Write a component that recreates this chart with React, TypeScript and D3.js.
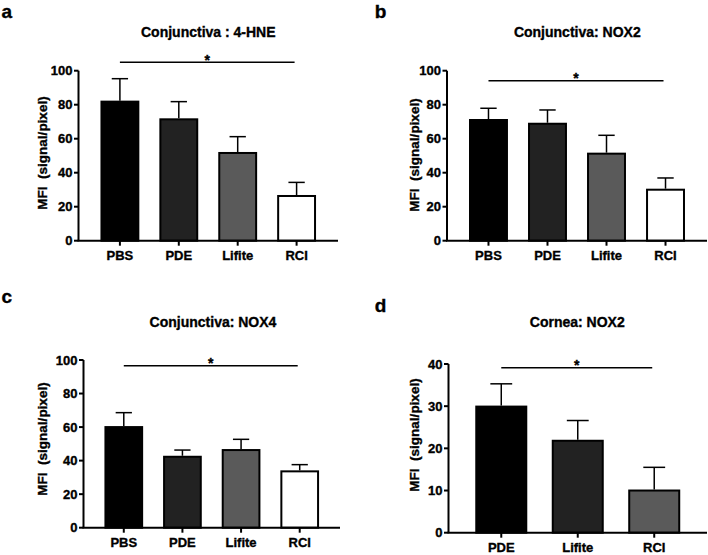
import React from "react";
import * as d3 from "d3";

const catsABC = ["PBS", "PDE", "Lifite", "RCI"];
const catsD = ["PDE", "Lifite", "RCI"];

const meanA = [81.8, 71.4, 51.6, 26.3];
const semA = [13.5, 10.4, 9.6, 8.0];
const meanB = [71.0, 68.8, 51.2, 30.0];
const semB = [6.9, 8.1, 10.8, 6.9];
const meanC = [60.0, 42.3, 46.3, 33.6];
const semC = [8.6, 4.0, 6.4, 4.0];
const meanD = [29.9, 21.8, 10.0];
const semD = [5.4, 4.8, 5.5];

const ticks100 = [0, 20, 40, 60, 80, 100];
const ticks40 = [0, 10, 20, 30, 40];

const fills4 = ["#000000", "#222222", "#5a5a5a", "#ffffff"];
const fills3 = ["#000000", "#222222", "#5a5a5a"];

const titles = ["Conjunctiva : 4-HNE", "Conjunctiva: NOX2", "Conjunctiva: NOX4", "Cornea: NOX2"];
const letters = ["a", "b", "c", "d"];
const yLabel = "MFI  (signal/pixel)";

const FONT = "'Liberation Sans', Arial, Helvetica, sans-serif";

type Panel = {
  cats: string[];
  mean: number[];
  sem: number[];
  fills: string[];
  ticks: number[];
  yMax: number;
  title: string;
  letter: string;
  ax: number;
  axEnd: number;
  y0: number;
  yTop: number;
  pi: number;
  po: number;
  titlePos: [number, number];
  letterPos: [number, number];
  ylabPos: [number, number];
  sigY: number;
};

const panels: Panel[] = [
  {
    cats: catsABC, mean: meanA, sem: semA, fills: fills4, ticks: ticks100, yMax: 100,
    title: titles[0], letter: letters[0],
    ax: 78.5, axEnd: 338, y0: 240.7, yTop: 70.7, pi: 0.34, po: 0.373,
    titlePos: [208.3, 36.7], letterPos: [1.5, 18], ylabPos: [42.3, 153], sigY: 62.3,
  },
  {
    cats: catsABC, mean: meanB, sem: semB, fills: fills4, ticks: ticks100, yMax: 100,
    title: titles[1], letter: letters[1],
    ax: 447, axEnd: 707, y0: 240.7, yTop: 70.7, pi: 0.34, po: 0.373,
    titlePos: [577.3, 37.3], letterPos: [374.7, 18], ylabPos: [414, 155], sigY: 80.7,
  },
  {
    cats: catsABC, mean: meanC, sem: semC, fills: fills4, ticks: ticks100, yMax: 100,
    title: titles[2], letter: letters[2],
    ax: 83.5, axEnd: 340, y0: 527.7, yTop: 360, pi: 0.34, po: 0.357,
    titlePos: [213, 327.3], letterPos: [1.5, 302.7], ylabPos: [42, 439], sigY: 365.7,
  },
  {
    cats: catsD, mean: meanD, sem: semD, fills: fills3, ticks: ticks40, yMax: 40,
    title: titles[3], letter: letters[3],
    ax: 448.5, axEnd: 707, y0: 532.7, yTop: 364, pi: 0.32, po: 0.35,
    titlePos: [577.3, 327.3], letterPos: [374.7, 311.7], ylabPos: [414.7, 435], sigY: 367.7,
  },
];

const textStyle = { stroke: "#000", strokeWidth: 0.35, fill: "#000" };

function PanelView({ p }: { p: Panel }) {
  const x = d3.scaleBand<string>().domain(p.cats).range([p.ax, p.axEnd]).paddingInner(p.pi).paddingOuter(p.po);
  const y = d3.scaleLinear().domain([0, p.yMax]).range([p.y0, p.yTop]);
  const bw = x.bandwidth();
  const cap = bw * 0.42;
  const first = p.cats[0];
  const last = p.cats[p.cats.length - 1];
  const sx1 = (x(first) as number) + bw / 2;
  const sx2 = (x(last) as number) + bw / 2 - 2;
  return (
    <g>
      <text x={p.letterPos[0]} y={p.letterPos[1]} fontSize={19} fontWeight="bold" fontFamily={FONT} {...textStyle}>{p.letter}</text>
      <text x={p.titlePos[0]} y={p.titlePos[1]} fontSize={14} fontWeight="bold" textAnchor="middle" fontFamily={FONT} {...textStyle}>{p.title}</text>
      <text
        transform={`translate(${p.ylabPos[0]},${p.ylabPos[1]}) rotate(-90)`}
        fontSize={13.5}
        fontWeight="bold"
        textAnchor="middle"
        dominantBaseline="central"
        fontFamily={FONT}
        style={{ whiteSpace: "pre" }}
        {...textStyle}
      >
        {yLabel}
      </text>
      {p.cats.map((c, i) => (
        <rect
          key={c}
          x={(x(c) as number) + 1}
          y={y(p.mean[i])}
          width={bw - 2}
          height={p.y0 - y(p.mean[i])}
          fill={p.fills[i]}
          stroke="#000"
          strokeWidth={2}
        />
      ))}
      {p.cats.map((c, i) => {
        const cx = (x(c) as number) + bw / 2;
        const top = y(p.mean[i] + p.sem[i]);
        return (
          <g key={"e" + c} stroke="#000" strokeWidth={1.5}>
            <line x1={cx} x2={cx} y1={y(p.mean[i]) - 1} y2={top} />
            <line x1={cx - cap / 2} x2={cx + cap / 2} y1={top} y2={top} />
          </g>
        );
      })}
      <line x1={p.ax} x2={p.ax} y1={p.y0} y2={p.yTop} stroke="#000" strokeWidth={2} />
      {p.ticks.map((t) => (
        <g key={"t" + t}>
          <line x1={p.ax - 4.5} x2={p.ax} y1={y(t)} y2={y(t)} stroke="#000" strokeWidth={2} />
          <text x={p.ax - 6} y={y(t)} dy="0.36em" fontSize={13} fontWeight="bold" textAnchor="end" fontFamily={FONT} {...textStyle}>{t}</text>
        </g>
      ))}
      <line x1={p.ax - 1} x2={p.axEnd} y1={p.y0} y2={p.y0} stroke="#000" strokeWidth={2} />
      {p.cats.map((c) => {
        const cx = (x(c) as number) + bw / 2;
        return (
          <g key={"x" + c}>
            <line x1={cx} x2={cx} y1={p.y0} y2={p.y0 + 5} stroke="#000" strokeWidth={2} />
            <text x={cx} y={p.y0 + 19.5} fontSize={13} fontWeight="bold" textAnchor="middle" fontFamily={FONT} {...textStyle}>{c}</text>
          </g>
        );
      })}
      <line x1={sx1} x2={sx2} y1={p.sigY} y2={p.sigY} stroke="#000" strokeWidth={1.6} />
      <text x={(sx1 + sx2) / 2} y={p.sigY + 2.5} fontSize={14} fontWeight="bold" textAnchor="middle" fontFamily={FONT} {...textStyle}>*</text>
    </g>
  );
}

export default function App() {
  return (
    <svg width={708} height={555} style={{ position: "absolute", left: 0, top: 0, background: "#fff" }}>
      <rect x={0} y={0} width={708} height={555} fill="#fff" />
      {panels.map((p, i) => (
        <PanelView key={i} p={p} />
      ))}
    </svg>
  );
}
